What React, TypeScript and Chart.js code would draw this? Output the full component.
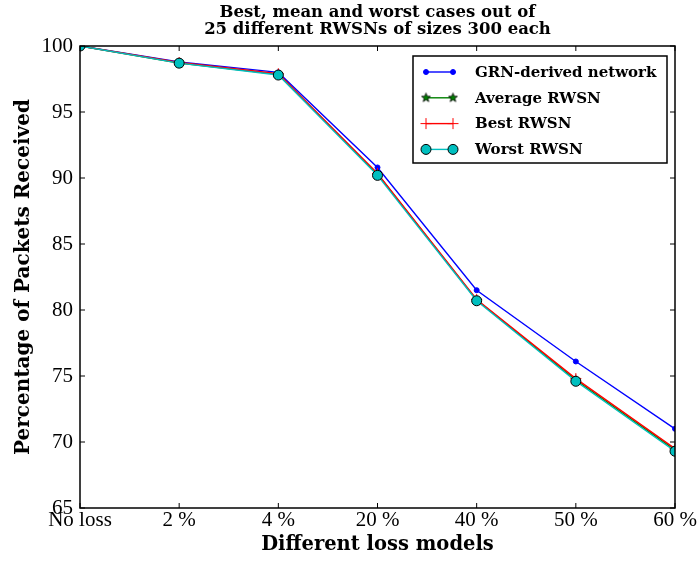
import { useEffect, useRef } from "react";
import { Chart, registerables } from "chart.js";
import { drawPoint } from "chart.js/helpers";

Chart.register(...registerables);

const categories = ["No loss", "2 %", "4 %", "20 %", "40 %", "50 %", "60 %"];
const grnValues = [100, 98.8, 98.0, 90.8, 81.5, 76.1, 71.0];
const averageValues = [100, 98.7, 97.85, 90.3, 80.75, 74.7, 69.4];
const bestValues = [100, 98.75, 97.9, 90.35, 80.8, 74.8, 69.5];
const worstValues = [100, 98.7, 97.8, 90.2, 80.7, 74.6, 69.3];
const seriesNames = ["GRN-derived network", "Average RWSN", "Best RWSN", "Worst RWSN"];
const titleLines = ["Best, mean and worst cases out of", "25 different RWSNs of sizes 300 each"];
const yAxisTitle = "Percentage of Packets Received";
const xAxisTitle = "Different loss models";
const yMin = 65;
const yMax = 100;
const yStep = 5;

const BOLD_FONT = "'DejaVu Serif', serif";
const TICK_FONT = "'Liberation Serif', 'Times New Roman', serif";

function makeStar(size: number, fill: string): HTMLCanvasElement {
  const c = document.createElement("canvas");
  c.width = size;
  c.height = size;
  const ctx = c.getContext("2d")!;
  const cx = size / 2, cy = size / 2;
  const R = size / 2 - 0.8, r = R * 0.42;
  ctx.beginPath();
  for (let i = 0; i < 10; i++) {
    const a = -Math.PI / 2 + (i * Math.PI) / 5;
    const rr = i % 2 === 0 ? R : r;
    const x = cx + rr * Math.cos(a), y = cy + rr * Math.sin(a);
    if (i === 0) ctx.moveTo(x, y); else ctx.lineTo(x, y);
  }
  ctx.closePath();
  ctx.fillStyle = fill;
  ctx.fill();
  ctx.lineWidth = 0.8;
  ctx.strokeStyle = "#000";
  ctx.stroke();
  return c;
}

const frameAndLegend = {
  id: "frameAndLegend",
  afterDatasetsDraw(chart: any) {
    const { ctx, chartArea: a } = chart;
    ctx.save();
    ctx.strokeStyle = "#000";
    ctx.lineWidth = 1.5;
    ctx.strokeRect(a.left, a.top, a.right - a.left, a.bottom - a.top);
    ctx.lineWidth = 1;
    const xs = chart.scales.x;
    const ys = chart.scales.y;
    const tl = 5;
    ctx.beginPath();
    for (let i = 0; i < xs.ticks.length; i++) {
      const px = xs.getPixelForTick(i);
      ctx.moveTo(px, a.bottom);
      ctx.lineTo(px, a.bottom - tl);
      ctx.moveTo(px, a.top);
      ctx.lineTo(px, a.top + tl);
    }
    for (let i = 0; i < ys.ticks.length; i++) {
      const py = ys.getPixelForTick(i);
      ctx.moveTo(a.left, py);
      ctx.lineTo(a.left + tl, py);
      ctx.moveTo(a.right, py);
      ctx.lineTo(a.right - tl, py);
    }
    ctx.stroke();

    // title centred over the plot area
    ctx.fillStyle = "#000";
    ctx.font = `bold 16.5px ${BOLD_FONT}`;
    ctx.textAlign = "center";
    ctx.textBaseline = "middle";
    const cx = (a.left + a.right) / 2;
    titleLines.forEach((t, i) => ctx.fillText(t, cx, a.top - 33 + i * 17));

    // legend
    const boxW = 254, boxH = 107;
    const bx = a.right - 8 - boxW;
    const by = a.top + 10;
    ctx.fillStyle = "#fff";
    ctx.fillRect(bx, by, boxW, boxH);
    ctx.lineWidth = 1.5;
    ctx.strokeStyle = "#000";
    ctx.strokeRect(bx, by, boxW, boxH);
    ctx.font = `bold 15px ${BOLD_FONT}`;
    ctx.textBaseline = "middle";
    ctx.textAlign = "left";
    const dsList = chart.data.datasets;
    for (let i = 0; i < dsList.length; i++) {
      const ds = dsList[i];
      const ry = by + 16 + i * 25.8;
      const x1 = bx + 13, x2 = bx + 40;
      ctx.strokeStyle = ds.borderColor;
      ctx.lineWidth = ds.borderWidth;
      ctx.beginPath();
      ctx.moveTo(x1, ry);
      ctx.lineTo(x2, ry);
      ctx.stroke();
      for (const px of [x1, x2]) {
        ctx.fillStyle = ds.pointBackgroundColor;
        ctx.strokeStyle = ds.pointBorderColor;
        ctx.lineWidth = ds.pointBorderWidth;
        drawPoint(ctx, { pointStyle: ds.pointStyle, radius: ds.pointRadius, rotation: 0, borderWidth: ds.pointBorderWidth }, px, ry);
      }
      ctx.fillStyle = "#000";
      ctx.fillText(ds.label, bx + 62, ry + 1);
    }
    ctx.restore();
  },
};

export default function App() {
  const ref = useRef<HTMLCanvasElement>(null);
  useEffect(() => {
    const star = makeStar(11, "#008000");
    const chart = new Chart(ref.current!, {
      type: "line",
      data: {
        labels: categories,
        datasets: [
          {
            label: seriesNames[0], data: grnValues, borderColor: "#0000ff", borderWidth: 1.4,
            pointStyle: "circle", pointRadius: 2.5, pointBackgroundColor: "#0000ff", pointBorderColor: "#0000ff",
            pointBorderWidth: 1, order: 4, clip: 0, tension: 0,
          },
          {
            label: seriesNames[1], data: averageValues, borderColor: "#008000", borderWidth: 1.4,
            pointStyle: star as any, pointRadius: 5, pointBackgroundColor: "#008000", pointBorderColor: "#000",
            pointBorderWidth: 0.8, order: 3, clip: 0, tension: 0,
          },
          {
            label: seriesNames[2], data: bestValues, borderColor: "#ff0000", borderWidth: 1.4,
            pointStyle: "cross", pointRadius: 5.5, pointBackgroundColor: "#ff0000", pointBorderColor: "#ff0000",
            pointBorderWidth: 1, order: 2, clip: 0, tension: 0,
          },
          {
            label: seriesNames[3], data: worstValues, borderColor: "#00bfbf", borderWidth: 1.4,
            pointStyle: "circle", pointRadius: 5, pointBackgroundColor: "#00bfbf", pointBorderColor: "#000",
            pointBorderWidth: 1, order: 1, clip: 0, tension: 0,
          },
        ] as any,
      },
      options: {
        animation: false,
        responsive: false,
        devicePixelRatio: 1,
        layout: { padding: { left: 0, right: 25, top: 46, bottom: 0 } },
        plugins: {
          legend: { display: false },
          tooltip: { enabled: false },
          title: { display: false },
        },
        scales: {
          x: {
            type: "category",
            offset: false,
            grid: { display: false, drawTicks: false },
            border: { display: false },
            ticks: {
              color: "#000",
              padding: 0,
              autoSkip: false,
              maxRotation: 0,
              font: { family: TICK_FONT, size: 21 },
            },
            title: {
              display: true,
              text: xAxisTitle,
              color: "#000",
              font: { family: BOLD_FONT, size: 19.5, weight: "bold", lineHeight: 1.2 },
              padding: { top: 0, bottom: 5.3 },
            },
            afterFit(scale: any) { scale.height = 54; },
          },
          y: {
            min: yMin,
            max: yMax,
            grid: { display: false, drawTicks: false },
            border: { display: false },
            ticks: {
              stepSize: yStep,
              color: "#000",
              padding: 7,
              font: { family: TICK_FONT, size: 21 },
            },
            title: {
              display: true,
              text: yAxisTitle,
              color: "#000",
              font: { family: BOLD_FONT, size: 20, weight: "bold", lineHeight: 1.2 },
              padding: { top: 12, bottom: 0 },
            },
            afterFit(scale: any) { scale.width = 80; },
          },
        },
      },
      plugins: [frameAndLegend],
    });
    return () => chart.destroy();
  }, []);
  return (
    <div style={{ position: "absolute", left: 0, top: 0, width: 700, height: 562, background: "#fff" }}>
      <canvas ref={ref} width={700} height={562} style={{ display: "block" }} />
    </div>
  );
}
